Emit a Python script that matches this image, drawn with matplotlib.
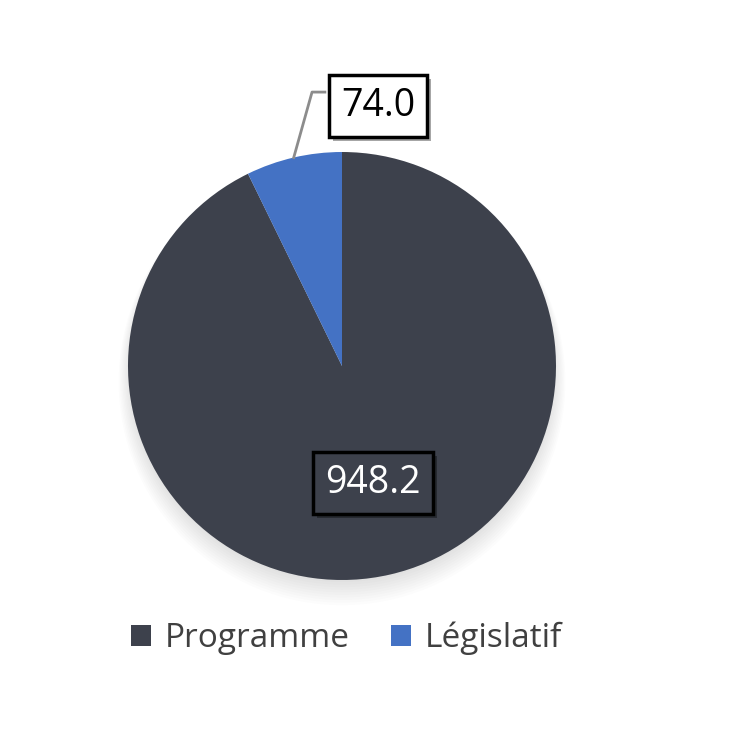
import numpy as np
import matplotlib.pyplot as plt
import matplotlib.patheffects as pe
from matplotlib.patches import Circle, Rectangle

categories = ["Programme", "Législatif"]
values = [948.2, 74.0]
colors = ["#3d414c", "#4472c4"]
value_labels = ["948.2", "74.0"]

plt.rcParams['font.family'] = ['Open Sans', 'DejaVu Sans']

fig = plt.figure(figsize=(7.37, 7.37), dpi=100)
ax = fig.add_axes([0, 0, 1, 1])

# soft shadow under the pie, mostly below
for k in range(10):
    ax.add_patch(Circle((0, -0.02 - 0.006 * k), 0.99 + 0.006 * k,
                        color="black", alpha=0.012, lw=0, zorder=0))

wedges, _ = ax.pie(values, colors=colors, startangle=90, counterclock=False,
                   radius=1.0, center=(0, 0),
                   wedgeprops=dict(linewidth=0))
for w in wedges:
    w.set_zorder(2)

shadow = [pe.withSimplePatchShadow(offset=(3, -3), shadow_rgbFace="black", alpha=0.35)]

# big slice label inside
t1 = ax.text(0.145, -0.547, value_labels[0], ha="center", va="center",
             fontsize=27, color="white", zorder=5,
             bbox=dict(boxstyle="square,pad=0.32", fc=colors[0], ec="black", lw=2.5))
t1.get_bbox_patch().set_path_effects(shadow)

# small slice label outside with leader line
w = wedges[1]
mid = np.deg2rad((w.theta1 + w.theta2) / 2)
edge = (np.cos(mid), np.sin(mid))
ax.plot([edge[0], -0.14, -0.08], [edge[1], 1.28, 1.28], color="#8c8c8c", lw=2, zorder=3)
t2 = ax.text(0.168, 1.215, value_labels[1], ha="center", va="center",
             fontsize=27, color="black", zorder=5,
             bbox=dict(boxstyle="square,pad=0.32", fc="white", ec="black", lw=2.5))
t2.get_bbox_patch().set_path_effects(shadow)

handles = [Rectangle((0, 0), 1, 1, fc=c, ec="none") for c in colors]
leg = fig.legend(handles, categories, loc="center", bbox_to_anchor=(0.47, 0.134),
                 ncol=2, frameon=False, fontsize=24, handlelength=0.6, handleheight=0.6,
                 handletextpad=0.4, columnspacing=1.25)
for txt in leg.get_texts():
    txt.set_color("#404040")

ax.set_xlim(-342 / 214, (737 - 342) / 214)
ax.set_ylim(-371 / 214, 366 / 214)
ax.set_aspect("equal")
ax.axis("off")

fig.savefig("out.png", dpi=100)
